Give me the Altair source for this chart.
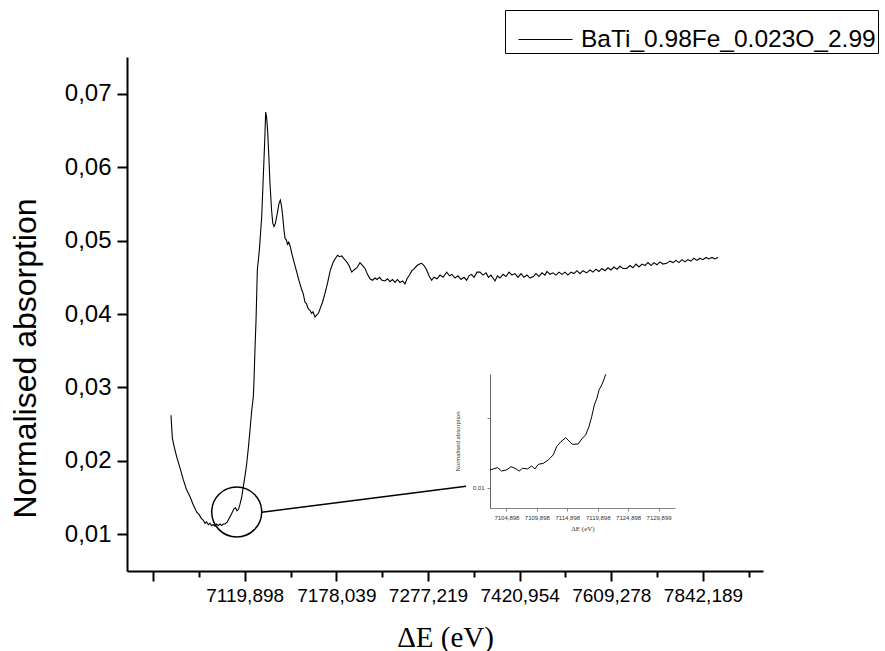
import altair as alt
import pandas as pd

SERIES = "BaTi_0.98Fe_0.023O_2.99"

# main spectrum: point index (axis ticks every 100 points) and normalised absorption
main_index = [
    19.6, 20.2, 21.1, 22.9, 25.9, 29.5, 33.1, 36.5, 40.4, 43.6,
    47.7, 50.2, 52.4, 54.9, 56.7, 58.4, 60.3, 62.2, 63.8, 65.8,
    67.6, 69.3, 71.2, 73.1, 74.7, 76.7, 78.5, 81.1, 84.0, 86.5,
    88.4, 90.0, 91.6, 93.3, 94.9, 96.8, 98.5, 100.4, 102.2, 104.2,
    105.8, 107.7, 109.4, 110.2, 111.3, 112.4, 113.8, 116.0, 118.6, 120.3,
    121.9, 122.9, 124.0, 125.1, 126.5, 127.6, 129.3, 130.6, 132.0, 133.4,
    135.6, 137.5, 138.9, 140.2, 141.5, 142.9, 144.0, 145.4, 146.7, 148.0,
    149.5, 151.3, 153.8, 156.8, 159.3, 162.0, 164.0, 165.8, 167.5, 169.4,
    171.3, 172.9, 174.5, 176.7, 178.9, 180.5, 182.2, 184.9, 187.6, 190.4,
    193.1, 196.4, 199.1, 201.3, 203.5, 205.9, 208.4, 211.3, 213.8, 216.8,
    219.3, 222.5, 225.8, 228.0, 231.3, 234.0, 236.7, 239.5, 242.2, 244.4,
    247.1, 249.8, 253.1, 255.8, 258.5, 261.3, 264.0, 266.7, 269.4, 272.2,
    274.9, 277.1, 279.8, 282.5, 285.3, 288.0, 290.7, 293.1, 295.6, 298.6,
    301.1, 304.0, 306.5, 309.8, 313.1, 316.4, 320.4, 323.5, 326.2, 329.5,
    332.7, 336.0, 339.3, 342.2, 344.7, 347.5, 350.2, 353.5, 356.7, 360.0,
    363.3, 366.0, 368.7, 371.5, 373.1, 375.8, 378.5, 381.8, 385.1, 388.4,
    391.6, 394.9, 398.2, 401.5, 404.7, 408.0, 411.3, 414.9, 417.8, 421.1,
    424.4, 427.6, 429.8, 433.1, 436.4, 439.6, 442.9, 446.2, 449.5, 452.7,
    456.0, 459.3, 462.5, 465.8, 469.1, 473.1, 476.7, 480.0, 483.3, 486.5,
    489.8, 493.1, 496.4, 499.6, 502.9, 506.2, 509.5, 512.7, 516.8, 520.4,
    523.6, 526.9, 530.2, 533.5, 536.7, 540.0, 543.3, 546.5, 549.8, 553.1,
    556.4, 560.4, 564.0, 567.3, 570.5, 573.8, 577.1, 580.4, 583.6, 586.9,
    590.2, 593.5, 596.7, 600.0, 603.3, 606.5, 609.8, 613.1, 616.4,
]
main_absorption = [
    0.0262, 0.0249, 0.0231, 0.0220, 0.0205, 0.0190, 0.0174, 0.0161, 0.0151, 0.0141,
    0.0130, 0.0127, 0.0122, 0.0119, 0.0115, 0.0117, 0.0113, 0.0115, 0.0112, 0.0113,
    0.0111, 0.0114, 0.0112, 0.0114, 0.0112, 0.0114, 0.0114, 0.0117, 0.0124, 0.0130,
    0.0135, 0.0136, 0.0132, 0.0134, 0.0141, 0.0151, 0.0165, 0.0180, 0.0196, 0.0220,
    0.0242, 0.0269, 0.0287, 0.0310, 0.0355, 0.0392, 0.0460, 0.0487, 0.0533, 0.0587,
    0.0637, 0.0675, 0.0667, 0.0648, 0.0610, 0.0578, 0.0542, 0.0524, 0.0519, 0.0523,
    0.0537, 0.0551, 0.0555, 0.0547, 0.0533, 0.0514, 0.0503, 0.0501, 0.0495, 0.0498,
    0.0493, 0.0483, 0.0471, 0.0457, 0.0445, 0.0434, 0.0427, 0.0416, 0.0414, 0.0407,
    0.0405, 0.0401, 0.0403, 0.0396, 0.0399, 0.0401, 0.0407, 0.0416, 0.0428, 0.0442,
    0.0458, 0.0470, 0.0476, 0.0480, 0.0478, 0.0479, 0.0475, 0.0471, 0.0466, 0.0457,
    0.0460, 0.0463, 0.0470, 0.0467, 0.0462, 0.0454, 0.0448, 0.0446, 0.0449, 0.0447,
    0.0450, 0.0446, 0.0445, 0.0448, 0.0444, 0.0447, 0.0443, 0.0447, 0.0443, 0.0445,
    0.0441, 0.0448, 0.0453, 0.0459, 0.0462, 0.0466, 0.0468, 0.0469, 0.0466, 0.0460,
    0.0452, 0.0446, 0.0450, 0.0448, 0.0453, 0.0450, 0.0457, 0.0452, 0.0454, 0.0449,
    0.0452, 0.0447, 0.0450, 0.0446, 0.0452, 0.0454, 0.0450, 0.0457, 0.0457, 0.0453,
    0.0456, 0.0450, 0.0453, 0.0448, 0.0445, 0.0452, 0.0449, 0.0454, 0.0451, 0.0457,
    0.0453, 0.0455, 0.0450, 0.0455, 0.0450, 0.0453, 0.0449, 0.0451, 0.0455, 0.0451,
    0.0456, 0.0453, 0.0458, 0.0454, 0.0456, 0.0453, 0.0457, 0.0454, 0.0457, 0.0453,
    0.0457, 0.0455, 0.0459, 0.0455, 0.0459, 0.0456, 0.0460, 0.0457, 0.0461, 0.0458,
    0.0462, 0.0459, 0.0463, 0.0460, 0.0464, 0.0461, 0.0465, 0.0462, 0.0462, 0.0466,
    0.0463, 0.0468, 0.0464, 0.0468, 0.0466, 0.0470, 0.0466, 0.0470, 0.0467, 0.0471,
    0.0468, 0.0469, 0.0472, 0.0470, 0.0473, 0.0470, 0.0474, 0.0471, 0.0474, 0.0472,
    0.0476, 0.0473, 0.0476, 0.0474, 0.0477, 0.0475, 0.0477, 0.0475, 0.0477,
]

# inset: pre-edge zoom (energy in eV)
inset_energy = [
    7102.18, 7102.73, 7103.45, 7104.11, 7104.93, 7105.64, 7106.30, 7107.00,
    7107.56, 7108.38, 7109.04, 7109.59, 7110.13, 7110.95, 7111.77, 7112.59,
    7113.15, 7113.86, 7114.63, 7115.18, 7115.72, 7116.71, 7117.27, 7117.92,
    7118.47, 7118.91, 7119.34, 7119.78, 7120.11, 7120.56, 7120.89, 7121.22,
]
inset_absorption = [
    0.01129, 0.01136, 0.01145, 0.01121, 0.01129, 0.01152, 0.01141, 0.01121,
    0.01141, 0.01136, 0.01157, 0.01136, 0.01169, 0.01176, 0.01200, 0.01236,
    0.01295, 0.01331, 0.01359, 0.01336, 0.01312, 0.01314, 0.01350, 0.01379,
    0.01438, 0.01509, 0.01593, 0.01641, 0.01700, 0.01736, 0.01771, 0.01812,
]

x_tick_values = [0, 50, 100, 150, 200, 250, 300, 350, 400, 450, 500, 550, 600, 650]
x_tick_labels = ["", "7119,898", "7178,039", "7277,219", "7420,954", "7609,278", "7842,189"]
y_tick_values = [0.01, 0.015, 0.02, 0.025, 0.03, 0.035, 0.04, 0.045,
                 0.05, 0.055, 0.06, 0.065, 0.07, 0.075]

inset_x_ticks = [7104.898, 7109.898, 7114.898, 7119.898, 7124.898, 7129.899]
inset_y_ticks = [0.01, 0.015]

# zoom marker (circle) and its connector, in main-plot data units
circle_index = [91.3]
circle_absorption = [0.01304]
connector_index = [118.6]
connector_absorption = [0.0130]
connector_index2 = [341.5]
connector_absorption2 = [0.01655]

W, H = 636, 514
SANS = "Liberation Sans"
SERIF = "Liberation Serif"

main_df = pd.DataFrame({"index": main_index, "absorption": main_absorption,
                        "series": [SERIES] * len(main_index)})
inset_df = pd.DataFrame({"energy": inset_energy, "inset_abs": inset_absorption})
circle_df = pd.DataFrame({"index": circle_index, "absorption": circle_absorption})
conn_df = pd.DataFrame({"index": connector_index, "absorption": connector_absorption,
                        "index2": connector_index2, "absorption2": connector_absorption2})

label_arr = "[" + ",".join("'%s'" % s for s in x_tick_labels) + "]"
x_scale = alt.Scale(domain=[-28.4, 665.5], nice=False, zero=False)
y_scale = alt.Scale(domain=[0.005, 0.075], nice=False, zero=False)

x_axis = alt.Axis(
    values=x_tick_values,
    labelExpr="datum.value % 100 === 0 ? " + label_arr + "[datum.value / 100] : ''",
    tickSize={"condition": {"test": "datum.value % 100 === 0", "value": 10}, "value": 6},
    title="ΔE (eV)", titleFont=SERIF, titleFontSize=29, titleFontWeight="normal",
    titleX=318, titleY=66, titleBaseline="middle", titleAlign="center",
    labelFont=SANS, labelFontSize=19, labelPadding=5, labelFlush=False, labelOverlap=False,
    domainColor="black", domainWidth=2, tickColor="black", tickWidth=2,
    labelColor="black", titleColor="black", grid=False,
)
y_axis = alt.Axis(
    values=y_tick_values,
    labelExpr="round(datum.value * 1000) % 10 === 0 ? replace(format(datum.value, '.2f'), '.', ',') : ''",
    tickSize={"condition": {"test": "round(datum.value * 1000) % 10 === 0", "value": 10}, "value": 6},
    title="Normalised absorption", titleFont=SANS, titleFontSize=32, titleFontWeight="normal",
    titleX=-102, titleY=301, titleAngle=270, titleBaseline="middle", titleAlign="center",
    labelFont=SANS, labelFontSize=24, labelPadding=6, labelOverlap=False,
    domainColor="black", domainWidth=2, tickColor="black", tickWidth=2,
    labelColor="black", titleColor="black", grid=False,
)

main_line = alt.Chart(main_df).mark_line(color="black", strokeWidth=1.1).encode(
    x=alt.X("index:Q", scale=x_scale, axis=x_axis),
    y=alt.Y("absorption:Q", scale=y_scale, axis=y_axis),
    color=alt.Color("series:N", scale=alt.Scale(range=["black"]),
                    legend=alt.Legend(
                        title=None, orient="none", legendX=378, legendY=-47,
                        strokeColor="black", fillColor="white", padding=2,
                        symbolType="stroke", symbolSize=2916, symbolStrokeWidth=1,
                        symbolStrokeColor="black", symbolOffset=11, labelOffset=8,
                        labelFont=SANS, labelFontSize=24.5, labelColor="black",
                        labelLimit=0,
                    )),
)

circle = alt.Chart(circle_df).mark_point(
    shape="circle", size=2500, filled=False, color="black", strokeWidth=1.5, opacity=1
).encode(x="index:Q", y="absorption:Q")

connector = alt.Chart(conn_df).mark_rule(color="black", strokeWidth=1.5).encode(
    x="index:Q", y="absorption:Q", x2="index2:Q", y2="absorption2:Q"
)

main_layer = alt.layer(main_line, circle, connector)

inset_label_expr = "replace(format(datum.value, '.3f'), '.', ',')"
inset = alt.Chart(inset_df).mark_line(color="black", strokeWidth=1).encode(
    x=alt.X("energy:Q",
            scale=alt.Scale(domain=[7102.2, 7132.6], range=[363, 548], nice=False, zero=False),
            axis=alt.Axis(orient="bottom", offset=-63, values=inset_x_ticks,
                          labelExpr=inset_label_expr, labelFont=SANS, labelFontSize=6,
                          labelPadding=3, labelFlush=False, labelOverlap=False,
                          tickSize=3, tickColor="#666666", tickWidth=0.8,
                          domainColor="#666666", domainWidth=0.8,
                          title="ΔE (eV)", titleFont=SERIF, titleFontSize=7,
                          titleFontWeight="normal", titlePadding=4,
                          labelColor="#333333", titleColor="#333333", grid=False)),
    y=alt.Y("inset_abs:Q",
            scale=alt.Scale(domain=[0.00857, 0.01814], range=[451, 317], nice=False, zero=False),
            axis=alt.Axis(orient="left", offset=-363, values=inset_y_ticks,
                          labelExpr="datum.value === 0.01 ? '0,01' : ''",
                          labelFont=SANS, labelFontSize=6, labelPadding=3,
                          tickSize=3, tickColor="#666666", tickWidth=0.8,
                          domainColor="#666666", domainWidth=1,
                          title="Normalised absorption", titleFont=SANS, titleFontSize=6,
                          titleFontWeight="normal", titlePadding=12,
                          labelColor="#333333", titleColor="#333333", grid=False)),
)

chart = alt.layer(main_layer, inset).resolve_scale(
    x="independent", y="independent"
).properties(
    width=W, height=H,
    padding={"left": 127, "top": 57, "right": 122, "bottom": 80},
    autosize=alt.AutoSizeParams(type="none"),
    background="white",
).configure_view(stroke=None)

chart.save("out.html", embed_options={"renderer": "svg", "actions": False})
